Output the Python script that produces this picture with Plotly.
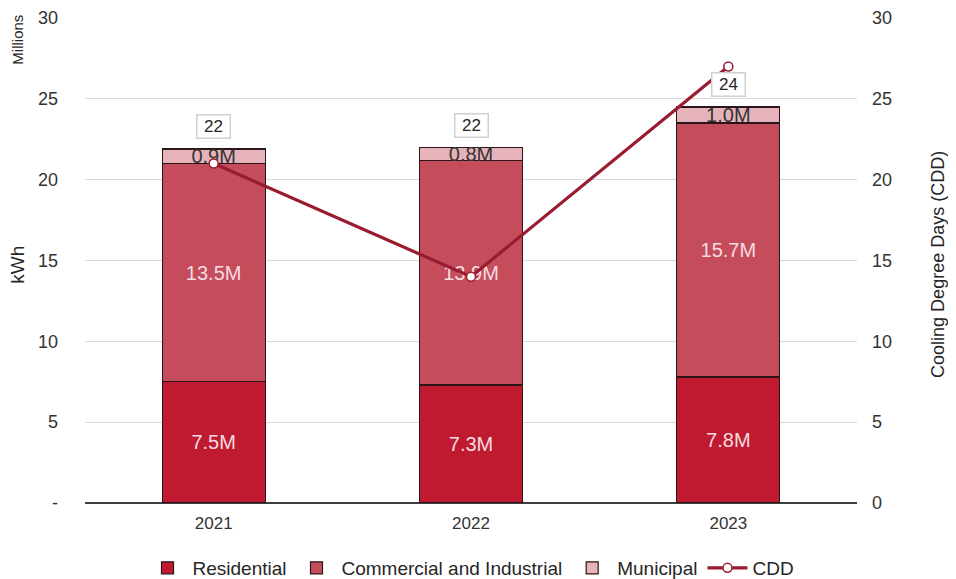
import plotly.graph_objects as go

years = ["2021", "2022", "2023"]
residential = [7.5, 7.3, 7.8]
commercial = [13.5, 13.9, 15.7]
municipal = [0.9, 0.8, 1.0]
cdd = [21, 14, 27]
total_labels = ["22", "22", "24"]
y_ticks = [0, 5, 10, 15, 20, 25, 30]
y_ticktext = ["-", "5", "10", "15", "20", "25", "30"]

FONT = "Liberation Sans, Arial, sans-serif"
OUTLINE = "#2b1518"
TXT = "#262626"

xpos = list(range(len(years)))

fig = go.Figure()

def fmt(v):
    return [f"{val:.1f}M" for val in v]

fig.add_trace(go.Bar(
    name="Residential", x=xpos, y=residential, text=fmt(residential),
    marker=dict(color="#C01A30", line=dict(color=OUTLINE, width=1.2)),
    textposition="inside", insidetextanchor="middle", textangle=0,
    textfont=dict(color="#F6DCE0", size=20, family=FONT),
))
fig.add_trace(go.Bar(
    name="Commercial and Industrial", x=xpos, y=commercial, text=fmt(commercial),
    marker=dict(color="#C54C5B", line=dict(color=OUTLINE, width=1.2)),
    textposition="inside", insidetextanchor="middle", textangle=0,
    textfont=dict(color="#F6DCE0", size=20, family=FONT),
))
fig.add_trace(go.Bar(
    name="Municipal", x=xpos, y=municipal, text=fmt(municipal),
    marker=dict(color="#E6B3BB", line=dict(color=OUTLINE, width=1.2)),
    textposition="inside", insidetextanchor="middle", textangle=0,
    textfont=dict(color="#333333", size=20, family=FONT),
))
fig.add_trace(go.Scatter(
    name="CDD", x=xpos, y=cdd, yaxis="y2", mode="lines+markers",
    line=dict(color="#9A1B30", width=3.2),
    marker=dict(symbol="circle", size=9, color="white",
                line=dict(color="#9A1B30", width=1.5)),
))

totals = [r + c + m for r, c, m in zip(residential, commercial, municipal)]
for xp, tot, lab in zip(xpos, totals, total_labels):
    fig.add_annotation(
        x=xp, y=tot, xref="x", yref="y", text=lab, showarrow=False,
        yshift=22, font=dict(size=17, color=TXT, family=FONT),
        width=30, height=20,
        bgcolor="white", bordercolor="#D0D0D0", borderwidth=1.5, borderpad=1,
    )

fig.add_annotation(text="kWh", x=-0.087, y=0.491, xref="paper", yref="paper",
                   textangle=-90, showarrow=False, xanchor="center", yanchor="middle",
                   font=dict(size=19, color=TXT, family=FONT))
fig.add_annotation(text="Millions", x=-0.087, y=0.955, xref="paper", yref="paper",
                   textangle=-90, showarrow=False, xanchor="center", yanchor="middle",
                   font=dict(size=15, color=TXT, family=FONT))
fig.add_annotation(text="Cooling Degree Days (CDD)", x=1.105, y=0.491,
                   xref="paper", yref="paper", textangle=-90, showarrow=False,
                   xanchor="center", yanchor="middle",
                   font=dict(size=18, color=TXT, family=FONT))

fig.update_layout(
    width=948, height=571,
    margin=dict(l=77, r=99, t=10, b=76, autoexpand=False),
    paper_bgcolor="white", plot_bgcolor="white",
    barmode="stack", bargap=0.6,
    font=dict(family=FONT, size=18, color="#333333"),
    uniformtext=dict(minsize=20, mode="show"),
    xaxis=dict(range=[-0.5, 2.5], tickvals=xpos, ticktext=years,
               showgrid=False, showline=False, zeroline=False, ticks="",
               automargin=False, ticklabelstandoff=8,
               tickfont=dict(size=17, color="#333333")),
    yaxis=dict(range=[0, 30], tickvals=y_ticks, ticktext=y_ticktext,
               showgrid=True, gridcolor="#D9D9D9", gridwidth=1.2,
               zeroline=True, zerolinecolor="#404040", zerolinewidth=1.5,
               showline=False, ticks="", ticklabelstandoff=26, automargin=False,
               tickfont=dict(size=18, color="#333333")),
    yaxis2=dict(range=[0, 30], tickvals=y_ticks, overlaying="y", side="right",
                showgrid=False, zeroline=False, showline=False, ticks="",
                automargin=False,
                ticklabelstandoff=14, tickfont=dict(size=18, color="#333333")),
    legend=dict(orientation="h", x=0.5, xanchor="center",
                y=-0.134, yanchor="middle", itemwidth=40,
                font=dict(size=19, color=TXT), traceorder="normal"),
    showlegend=True,
)

fig.write_html("out.html")
